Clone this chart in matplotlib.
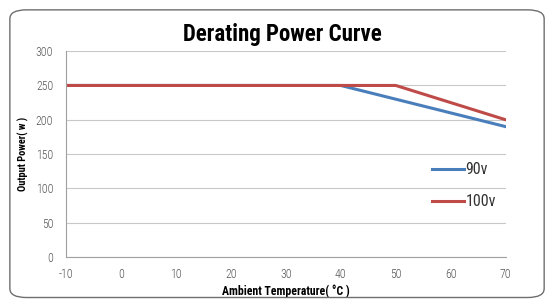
import matplotlib
matplotlib.use('Agg')
import matplotlib.pyplot as plt
from matplotlib.patches import FancyBboxPatch

# data
temps_90v = [-10, 40, 70]
power_90v = [250, 250, 190]
temps_100v = [-10, 50, 70]
power_100v = [250, 250, 200]
x_ticks = [-10, 0, 10, 20, 30, 40, 50, 60, 70]
y_ticks = [0, 50, 100, 150, 200, 250, 300]

narrow = ['Roboto Condensed', 'DejaVu Sans']
plt.rcParams['axes.unicode_minus'] = False

fig = plt.figure(figsize=(5.48, 2.99), dpi=100)
fig.patch.set_facecolor('white')

# rounded frame round the whole chart
frame = FancyBboxPatch((0.018, 0.005), 0.975, 0.962,
                       boxstyle='round,pad=0,rounding_size=0.03',
                       transform=fig.transFigure, facecolor='none',
                       edgecolor='#6e6e6e', linewidth=1.0)
fig.patches.append(frame)

ax = fig.add_axes([0.120, 0.140, 0.803, 0.689])
ax.plot(temps_90v, power_90v, color='#4a7ebb', linewidth=2.2, label='90v')
ax.plot(temps_100v, power_100v, color='#be4b48', linewidth=2.2, label='100v')

ax.set_xlim(-10, 70)
ax.set_ylim(0, 300)
ax.set_xticks(x_ticks)
ax.set_yticks(y_ticks)
ax.grid(axis='y', color='#c8c8c8', linewidth=0.8)
ax.set_axisbelow(True)
for side in ['top', 'right']:
    ax.spines[side].set_visible(False)
for side in ['left', 'bottom']:
    ax.spines[side].set_color('#a0a0a0')
    ax.spines[side].set_linewidth(0.8)
ax.tick_params(axis='x', length=0, colors='#555555', labelsize=8.5, pad=8)
ax.tick_params(axis='y', length=0, colors='#555555', labelsize=8.5, pad=9)
for lab in ax.get_xticklabels() + ax.get_yticklabels():
    lab.set_family(narrow)
    lab.set_fontweight(300)

ax.set_xlabel('Ambient Temperature( °C )', family=narrow, fontsize=8.5,
              fontweight='bold', labelpad=2)
ax.set_ylabel('Output Power( w )', family=narrow, fontsize=7.5,
              fontweight='bold', labelpad=5)
fig.text(0.516, 0.885, 'Derating Power Curve', family=narrow, fontsize=16.5,
         fontweight='bold', ha='center', va='center')

leg = ax.legend(loc='upper left', bbox_to_anchor=(0.80, 0.53), frameon=False,
                prop={'family': narrow, 'size': 11.5}, handlelength=2.0,
                handletextpad=0.1, labelspacing=1.05)
for t in leg.get_texts():
    t.set_color('#333333')

fig.savefig('out.png', dpi=100)
